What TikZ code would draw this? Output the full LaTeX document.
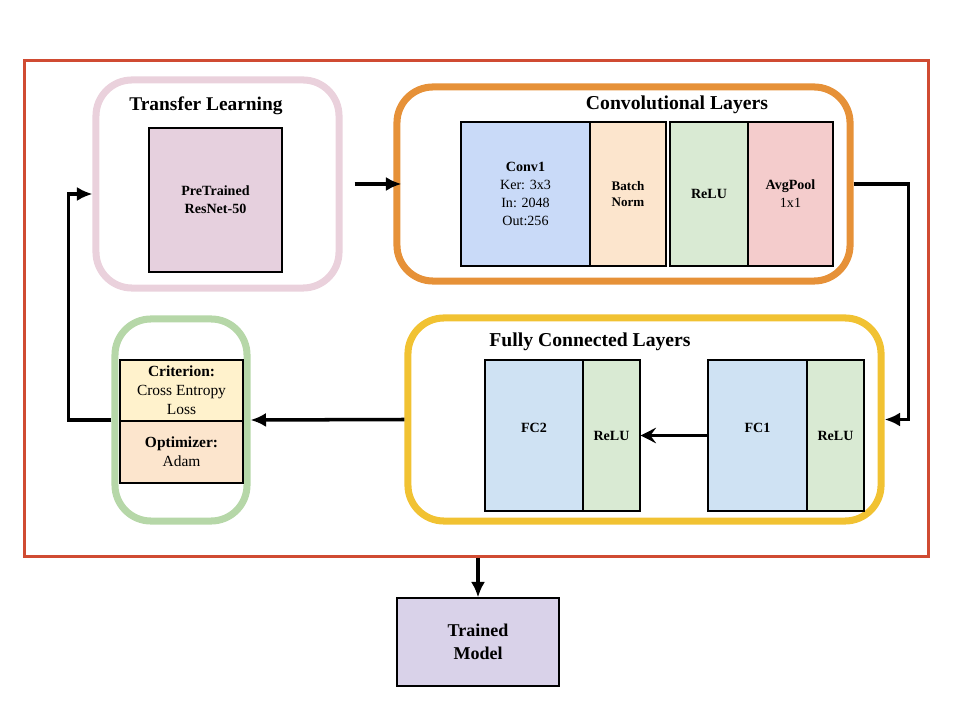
\documentclass[tikz,border=0pt]{standalone}
\usepackage{fontspec}
\setmainfont{Liberation Serif}
\usetikzlibrary{arrows.meta}

\definecolor{framered}{RGB}{208,75,50}
\definecolor{tlpink}{RGB}{234,209,220}
\definecolor{resfill}{RGB}{230,208,222}
\definecolor{convorange}{RGB}{230,145,56}
\definecolor{convblue}{RGB}{201,218,248}
\definecolor{bnpeach}{RGB}{252,229,205}
\definecolor{relugreen}{RGB}{217,234,211}
\definecolor{poolred}{RGB}{244,204,204}
\definecolor{fcyellow}{RGB}{241,194,50}
\definecolor{fcblue}{RGB}{207,226,243}
\definecolor{lossgreen}{RGB}{182,215,168}
\definecolor{crityellow}{RGB}{255,242,204}
\definecolor{modelviolet}{RGB}{217,210,233}

\begin{document}
\begin{tikzpicture}[x=0.025cm,y=-0.025cm,
  container/.style={draw,line width=5pt,rounded corners=0.9cm},
  layer/.style={draw,line width=0.8pt,inner sep=2pt,align=center,
    font=\fontsize{10}{12.8}\selectfont},
  title/.style={font=\fontsize{14}{16}\selectfont\bfseries},
  arr/.style={line width=2.5pt,-{Latex[length=11pt,width=10pt]}}]

\useasboundingbox (0,0) rectangle (960,720);

% The outer frame
\node[draw=framered,line width=2.1pt,minimum width=22.575cm,minimum height=12.375cm] (frame) at (476.5,308.5) {};

% Transfer learning
\node[container,draw=tlpink,minimum width=6.075cm,minimum height=5.2cm] (tl) at (217.5,184) {};
\node[title,font=\fontsize{13.8}{16}\selectfont\bfseries] (tltitle) at (206,106) {Transfer Learning};
\node[layer,fill=resfill,minimum width=3.325cm,minimum height=3.6cm] (resnet) at (215.5,200) {\textbf{PreTrained}\\\textbf{ResNet-50}};

% Convolutional layers
\node[container,draw=convorange,minimum width=11.325cm,minimum height=4.85cm] (conv) at (623.5,184) {};
\node[title] (convtitle) at (677,105) {Convolutional Layers};
\node[layer,fill=convblue,minimum width=3.225cm,minimum height=3.6cm] (conv1) at (525.5,194) {\textbf{Conv1}\\Ker: 3x3\\In: 2048\\Out:256};
\node[layer,fill=bnpeach,minimum width=1.9cm,minimum height=3.6cm,font=\fontsize{9.3}{12}\selectfont\bfseries] (bn) at (628,194) {Batch\\Norm};
\node[layer,fill=relugreen,minimum width=1.95cm,minimum height=3.6cm,font=\fontsize{10}{12.8}\selectfont\bfseries] (relu1) at (709,194) {ReLU};
\node[layer,fill=poolred,minimum width=2.125cm,minimum height=3.6cm] (pool) at (790.5,194) {\textbf{AvgPool}\\1x1};

% Fully connected layers
\node[container,draw=fcyellow,minimum width=11.825cm,minimum height=5.075cm] (fc) at (644.5,419.5) {};
\node[title] (fctitle) at (590,342) {Fully Connected Layers};
\node[layer,fill=fcblue,minimum width=2.45cm,minimum height=3.775cm,text depth=11pt,font=\fontsize{10}{12.8}\selectfont\bfseries] (fc2) at (534,435.5) {FC2};
\node[layer,fill=relugreen,minimum width=1.425cm,minimum height=3.775cm,font=\fontsize{10}{12.8}\selectfont\bfseries] (fcrelu2) at (611.5,435.5) {ReLU};
\node[layer,fill=fcblue,minimum width=2.475cm,minimum height=3.775cm,text depth=11pt,font=\fontsize{10}{12.8}\selectfont\bfseries] (fc1) at (757.5,435.5) {FC1};
\node[layer,fill=relugreen,minimum width=1.425cm,minimum height=3.775cm,font=\fontsize{10}{12.8}\selectfont\bfseries] (fcrelu1) at (835.5,435.5) {ReLU};

% Loss and optimizer
\node[container,draw=lossgreen,minimum width=3.3cm,minimum height=5.05cm] (loss) at (181,420) {};
\node[layer,fill=crityellow,minimum width=3.075cm,minimum height=1.525cm,font=\fontsize{11}{13.5}\selectfont] (crit) at (181.5,390.5) {\textbf{Criterion:}\\Cross Entropy\\Loss};
\node[layer,fill=bnpeach,minimum width=3.075cm,minimum height=1.55cm,font=\fontsize{11}{13.5}\selectfont] (optim) at (181.5,452) {\textbf{Optimizer:}\\Adam};

% Result
\node[layer,fill=modelviolet,minimum width=4.05cm,minimum height=2.2cm,font=\fontsize{12.8}{15.9}\selectfont\bfseries] (model) at (478,642) {Trained\\Model};

% The arrows
\draw[arr,shorten <=0.3cm,shorten >=-0.2cm] (tl.east) -- (conv.west);
\draw[arr] (conv.east) -- ++(1.375cm,0) |- (fc.east);
\draw[line width=2.5pt,-{Stealth[length=11pt,width=11pt,inset=4pt]}] (fc1.west) -- (fcrelu2.east);
\draw[arr] (fc.west) -- (loss.east);
\draw[arr] (loss.west) -- ++(-1.075cm,0) |- ([yshift=-0.25cm]tl.west);
\draw[arr] (frame.south -| model.north) -- (model.north);

\end{tikzpicture}
\end{document}
